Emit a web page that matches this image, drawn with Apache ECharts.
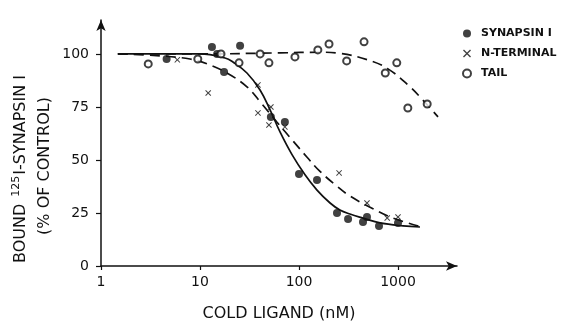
<!DOCTYPE html>
<html>
<head>
<meta charset="utf-8">
<script src="https://cdn.jsdelivr.net/npm/echarts@6/dist/echarts.min.js"></script>
<style>
  html, body { margin: 0; padding: 0; background: #fff; }
  #chart { width: 569px; height: 324px; }
</style>
</head>
<body>
<div id="chart"></div>
<script>
// measured points (concentration in nM, bound % of control)
const synConc = [4.6, 13.2, 14.9, 17.5, 25.4, 52, 72, 100, 152, 242, 313, 443, 486, 643, 1000];
const synVal = [97.6, 103.3, 100, 91.5, 103.8, 70.3, 67.9, 43.4, 40.6, 25, 22.2, 20.8, 23.1, 18.9, 20.3];

const ntConc = [5.9, 12.1, 38.5, 38.5, 49.7, 52, 72, 254, 486, 778, 1000];
const ntVal = [97.2, 81.6, 85.4, 72.2, 66.5, 75, 65.6, 43.9, 29.7, 22.6, 23.1];

const tailConc = [3.0, 9.5, 16.3, 24.8, 40.5, 49.7, 91, 155, 201, 303, 454, 744, 972, 1257, 1972];
const tailVal = [95.3, 97.6, 100, 95.8, 100, 95.8, 98.6, 101.9, 104.7, 96.7, 105.7, 91, 95.8, 74.5, 76.4];

// fitted curves
const synFitConc = [1.48, 10, 17.9, 21.5, 29.8, 40.4, 51, 64.3, 85, 115, 152, 206, 259, 327, 443, 658, 1123, 1667];
const synFitVal = [100, 100, 98.1, 96.2, 91.0, 83.0, 73.6, 63.2, 52.5, 43.0, 35.8, 29.7, 26.4, 24.5, 22.6, 20.3, 18.9, 18.4];

const ntFitConc = [1.48, 3.94, 7.93, 11.8, 18.7, 29.8, 40.4, 60, 86.9, 120, 163, 242, 327, 559, 890, 1746];
const ntFitVal = [100, 99.1, 97.6, 95.3, 91.0, 84.5, 77.5, 67.8, 59.0, 51.4, 44.6, 37.6, 33.0, 27.0, 22.6, 18.4];

const tailFitConc = [1.48, 10, 64, 163, 259, 486, 778, 1317, 1778, 2536];
const tailFitVal = [100, 100, 100.5, 100.8, 100.3, 97.3, 93.2, 84.6, 78.3, 70.3];

const xTicks = [1, 10, 100, 1000];
const yTicks = [0, 25, 50, 75, 100];

const seriesNames = ['SYNAPSIN I', 'N-TERMINAL', 'TAIL'];

const ink = '#111';
const font = 'DejaVu Sans';
const crossIcon = 'path://M0,1.2L1.2,0L5,3.8L8.8,0L10,1.2L6.2,5L10,8.8L8.8,10L5,6.2L1.2,10L0,8.8L3.8,5Z';

const zip = (xs, ys) => xs.map((x, i) => [x, ys[i]]);

const chart = echarts.init(document.getElementById('chart'));

chart.setOption({
  backgroundColor: '#fff',
  animation: false,
  textStyle: { fontFamily: font, color: ink },
  grid: { left: 101, right: 112, top: 20, bottom: 58, containLabel: false, outerBoundsMode: 'none' },
  legend: {
    orient: 'vertical',
    left: 457,
    top: 23,
    itemWidth: 8,
    itemHeight: 8,
    itemGap: 9,
    data: seriesNames,
    textStyle: { fontFamily: font, fontSize: 11, fontWeight: 'bold', color: ink, padding: [0, 0, 0, 5] }
  },
  // y-axis title, two rotated lines
  graphic: [
    {
      type: 'text',
      x: 21,
      y: 169,
      rotation: Math.PI / 2,
      style: {
        text: '{t|BOUND }{s|125}{t|I-SYNAPSIN I}',
        align: 'center',
        verticalAlign: 'middle',
        fill: ink,
        rich: {
          t: { fontSize: 16, fontFamily: font, fill: ink, lineHeight: 20 },
          s: { fontSize: 11, fontFamily: font, fill: ink, lineHeight: 20, padding: [0, 1, 10, 2] }
        }
      }
    },
    {
      type: 'text',
      x: 45,
      y: 166,
      rotation: Math.PI / 2,
      style: {
        text: '(% OF CONTROL)',
        align: 'center',
        verticalAlign: 'middle',
        fill: ink,
        font: '16px "DejaVu Sans"'
      }
    }
  ],
  xAxis: {
    type: 'log',
    logBase: 10,
    min: 1,
    max: 3944,
    name: 'COLD LIGAND (nM)',
    nameLocation: 'middle',
    nameGap: 40,
    nameTextStyle: { fontFamily: font, fontSize: 16, color: ink },
    axisLine: { show: true, symbol: ['none', 'arrow'], symbolSize: [7, 11], lineStyle: { color: ink, width: 1.5 } },
    axisTick: { show: true, length: 4, customValues: xTicks, lineStyle: { color: ink, width: 1.2 } },
    axisLabel: {
      customValues: xTicks,
      margin: 9,
      fontSize: 14,
      color: ink,
      fontFamily: font,
      formatter: (v) => String(Math.round(v))
    },
    splitLine: { show: false },
    minorTick: { show: false }
  },
  yAxis: {
    type: 'value',
    min: 0,
    max: 116,
    axisLine: { show: true, symbol: ['none', 'arrow'], symbolSize: [7, 11], lineStyle: { color: ink, width: 1.5 } },
    axisTick: { show: true, length: 5, customValues: yTicks, lineStyle: { color: ink, width: 1.2 } },
    axisLabel: { customValues: yTicks, margin: 12, fontSize: 14, color: ink, fontFamily: font },
    splitLine: { show: false }
  },
  series: [
    {
      name: 'synFit',
      type: 'line',
      data: zip(synFitConc, synFitVal),
      showSymbol: false,
      smooth: 0.4,
      silent: true,
      lineStyle: { color: ink, width: 1.7 },
      z: 1
    },
    {
      name: 'ntFit',
      type: 'line',
      data: zip(ntFitConc, ntFitVal),
      showSymbol: false,
      smooth: 0.4,
      silent: true,
      lineStyle: { color: ink, width: 1.7, type: [10, 6] },
      z: 1
    },
    {
      name: 'tailFit',
      type: 'line',
      data: zip(tailFitConc, tailFitVal),
      showSymbol: false,
      smooth: 0.4,
      silent: true,
      lineStyle: { color: ink, width: 1.7, type: [10, 6] },
      z: 1
    },
    {
      name: seriesNames[0],
      type: 'scatter',
      data: zip(synConc, synVal),
      symbol: 'circle',
      symbolSize: 8,
      itemStyle: { color: ink },
      z: 3
    },
    {
      name: seriesNames[1],
      type: 'scatter',
      data: zip(ntConc, ntVal),
      symbol: crossIcon,
      symbolSize: 6,
      itemStyle: { color: ink },
      z: 3
    },
    {
      name: seriesNames[2],
      type: 'scatter',
      data: zip(tailConc, tailVal),
      symbol: 'emptyCircle',
      symbolSize: 7,
      itemStyle: { color: ink, borderColor: ink, borderWidth: 1.6 },
      z: 3
    }
  ]
});
</script>
</body>
</html>
